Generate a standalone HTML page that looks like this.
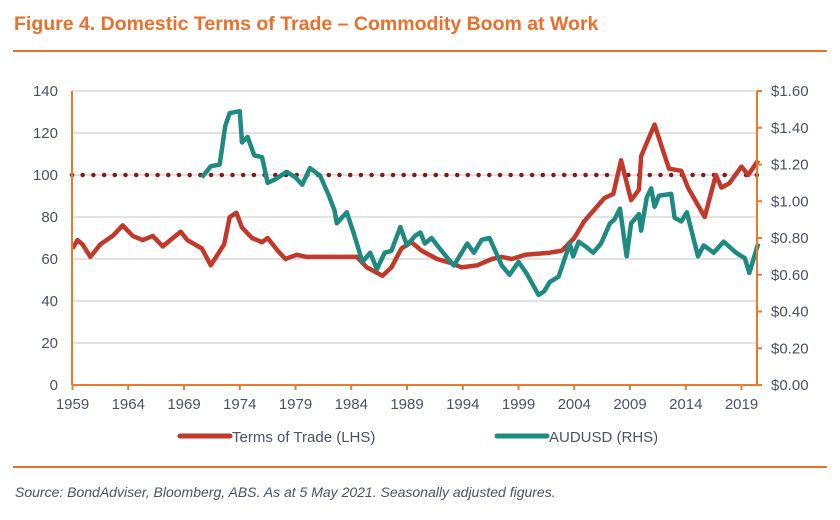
<!DOCTYPE html>
<html><head><meta charset="utf-8">
<style>
body{margin:0;background:#fff;width:840px;height:515px;overflow:hidden;font-family:"Liberation Sans",Arial,sans-serif;}
svg text{font-family:"Liberation Sans",Arial,sans-serif;}
</style></head>
<body>
<svg width="840" height="515" xmlns="http://www.w3.org/2000/svg">
<text x="14" y="30" font-size="19.5" font-weight="bold" fill="#E8702A">Figure 4. Domestic Terms of Trade – Commodity Boom at Work</text>
<line x1="13" y1="51" x2="827" y2="51" stroke="#E8702A" stroke-width="2"/>
<g id="grid"></g>
<g id="series"></g>
<g id="axes"></g>
<line x1="180" y1="436" x2="230" y2="436" stroke="#C0392B" stroke-width="5" stroke-linecap="round"/>
<text x="232" y="442" font-size="15" fill="#4a5263">Terms of Trade (LHS)</text>
<line x1="497" y1="436" x2="547" y2="436" stroke="#1E8A80" stroke-width="5" stroke-linecap="round"/>
<text x="549" y="442" font-size="15" fill="#4a5263">AUDUSD (RHS)</text>
<line x1="13" y1="467" x2="827" y2="467" stroke="#E8702A" stroke-width="2"/>
<text x="15" y="497" font-size="14" font-style="italic" fill="#4a5263">Source: BondAdviser, Bloomberg, ABS. As at 5 May 2021. Seasonally adjusted figures.</text>
</svg>
<script>
const totYears=[1959.0,1959.45,1959.9,1960.6,1961.5,1962.6,1963.5,1964.4,1965.3,1966.2,1967.1,1968.0,1968.7,1969.3,1970.6,1971.4,1972.6,1973.1,1973.7,1974.2,1975.1,1976.0,1976.5,1977.4,1978.1,1979.1,1980.0,1981.4,1983.2,1984.5,1985.4,1986.8,1987.6,1988.5,1989.4,1990.3,1991.7,1993.0,1993.9,1995.3,1996.6,1997.5,1998.4,1999.6,2001.8,2002.9,2004.0,2004.9,2006.7,2007.5,2008.2,2009.1,2009.8,2010.0,2011.2,2012.0,2012.5,2013.6,2014.2,2015.7,2016.7,2017.2,2017.9,2019.0,2019.6,2020.5];
const totValues=[65,69,67,61,67,71,76,71,69,71,66,70,73,69,65,57,67,80,82,75,70,68,70,64,60,62,61,61,61,61,56,52,56,65,68,64,60,58,56,57,60,61,60,62,63,64,70,78,89,91,107,88,93,109,124,111,103,102,94,80,100,94,96,104,100,107];
const audYears=[1970.6,1971.4,1972.2,1972.7,1973.1,1974.0,1974.2,1974.7,1975.3,1976.0,1976.5,1977.2,1978.2,1979.0,1979.6,1980.3,1981.2,1982.0,1982.5,1982.7,1983.6,1984.2,1985.0,1985.7,1986.3,1987.0,1987.6,1988.4,1989.0,1989.7,1990.2,1990.6,1991.2,1992.1,1993.2,1994.4,1995.0,1995.7,1996.4,1997.5,1998.2,1999.0,1999.7,2000.8,2001.3,2001.8,2002.6,2003.1,2003.6,2003.9,2004.4,2005.1,2005.7,2006.4,2007.2,2007.6,2008.1,2008.7,2009.1,2009.8,2010.0,2010.5,2010.9,2011.2,2011.6,2012.7,2013.0,2013.6,2014.1,2015.1,2015.6,2016.5,2017.4,2018.5,2019.3,2019.7,2020.5];
const audValues=[1.13,1.19,1.20,1.41,1.48,1.49,1.32,1.35,1.25,1.24,1.10,1.12,1.16,1.13,1.09,1.18,1.14,1.03,0.95,0.88,0.94,0.83,0.67,0.72,0.63,0.72,0.73,0.86,0.76,0.81,0.83,0.77,0.80,0.73,0.65,0.77,0.72,0.79,0.80,0.65,0.60,0.67,0.61,0.49,0.51,0.56,0.59,0.68,0.77,0.70,0.78,0.75,0.72,0.77,0.88,0.90,0.96,0.70,0.88,0.93,0.84,1.02,1.07,0.97,1.03,1.04,0.91,0.89,0.94,0.70,0.76,0.72,0.78,0.72,0.69,0.61,0.77];
const leftTicks=[0,20,40,60,80,100,120,140];
const rightTicks=[0,0.2,0.4,0.6,0.8,1.0,1.2,1.4,1.6];
const xTicks=[1959,1964,1969,1974,1979,1984,1989,1994,1999,2004,2009,2014,2019];
const refLevel=[100];

const NS="http://www.w3.org/2000/svg";
const X0=72,X1=757,Y0=385,Y1=91;
const xs=y=>72.5+(y-1959)*11.15;
const yl=v=>Y0-(v/140)*(Y0-Y1);
const yr=v=>Y0-(v/1.6)*(Y0-Y1);
function mk(tag,attrs,parent){const e=document.createElementNS(NS,tag);for(const k in attrs)e.setAttribute(k,attrs[k]);parent.appendChild(e);return e;}
const grid=document.getElementById('grid'),axes=document.getElementById('axes'),ser=document.getElementById('series');
leftTicks.forEach(t=>{
  if(t>0){const g=mk('line',{x1:X0,x2:X1,y1:yl(t),y2:yl(t),stroke:'#d9d9d9','stroke-width':1.5},grid);
  
  }
  const tx=mk('text',{x:X0-14,y:yl(t)+5,'font-size':15,fill:'#4a5263','text-anchor':'end'},axes);
  tx.textContent=t;
  
  
});
rightTicks.forEach(t=>{
  const tk=mk('line',{x1:X1,x2:X1+5,y1:yr(t),y2:yr(t),stroke:'#E87B2E','stroke-width':2},axes);
  
  
  const tx=mk('text',{x:X1+14,y:yr(t)+5,'font-size':15,fill:'#4a5263'},axes);
  tx.textContent='$'+t.toFixed(2);
  
  
});
xTicks.forEach(t=>{
  const tk=mk('line',{x1:xs(t),x2:xs(t),y1:Y0,y2:Y0+5,stroke:'#E87B2E','stroke-width':2},axes);
  
  
  const tx=mk('text',{x:xs(t),y:Y0+24,'font-size':15,fill:'#4a5263','text-anchor':'middle'},axes);
  tx.textContent=t;
  
  
});
const la=mk('line',{x1:X0,x2:X0,y1:Y1,y2:Y0,stroke:'#E87B2E','stroke-width':2},axes);


const ra=mk('line',{x1:X1,x2:X1,y1:Y1,y2:Y0,stroke:'#E87B2E','stroke-width':2},axes);


const xa=mk('line',{x1:X0,x2:X1,y1:Y0,y2:Y0,stroke:'#E87B2E','stroke-width':2},axes);


const ref=mk('line',{x1:X0,x2:X1,y1:yl(refLevel[0]),y2:yl(refLevel[0]),stroke:'#7B1C1C','stroke-width':4.5,'stroke-dasharray':'0 10.7','stroke-linecap':'round'},ser);


const tp=mk('polyline',{points:totYears.map((y,i)=>xs(y)+','+yl(totValues[i])).join(' '),fill:'none',stroke:'#C0392B','stroke-width':4.5,'stroke-linejoin':'round'},ser);


const ap=mk('polyline',{points:audYears.map((y,i)=>xs(y)+','+yr(audValues[i])).join(' '),fill:'none',stroke:'#1E8A80','stroke-width':4.5,'stroke-linejoin':'round'},ser);


</script>
</body></html>
